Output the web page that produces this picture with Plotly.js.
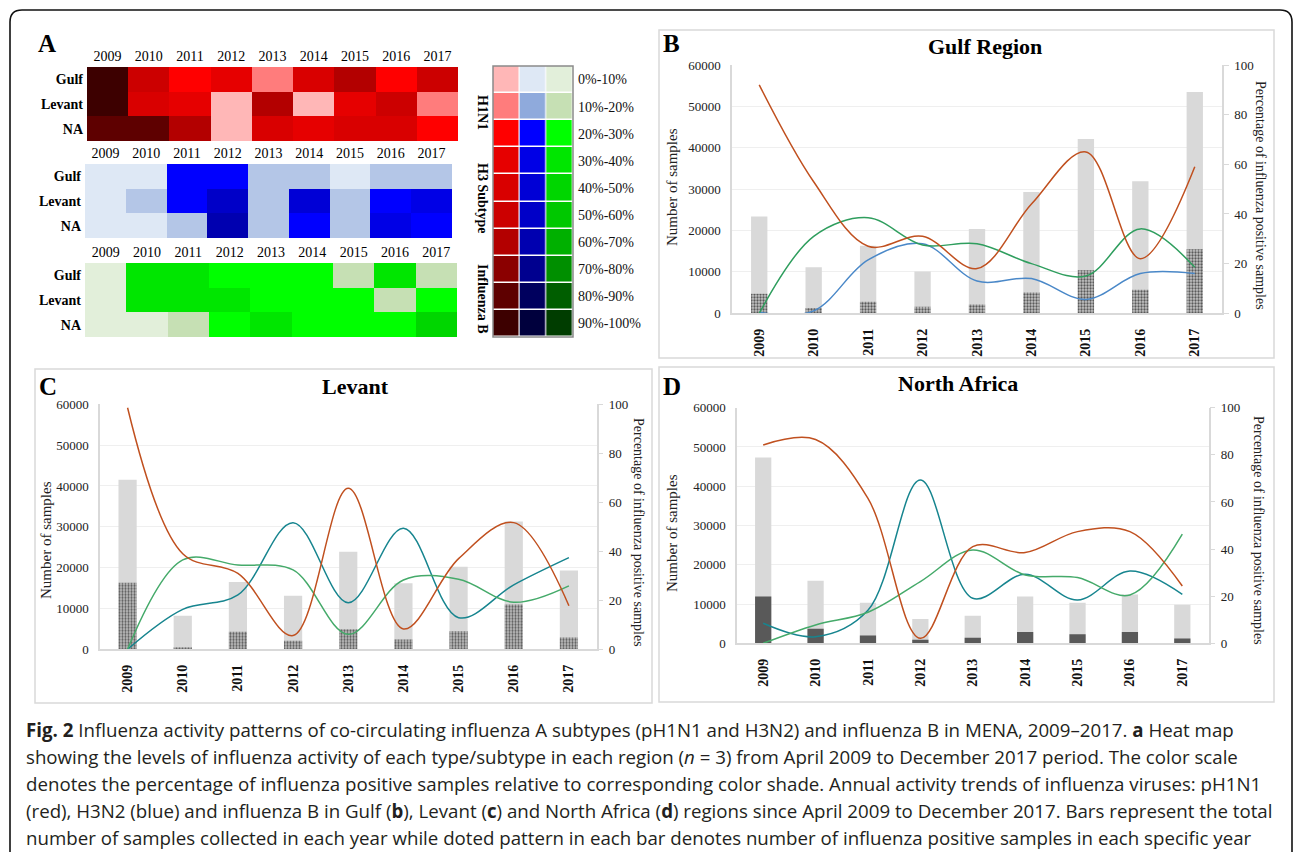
<!DOCTYPE html>
<html><head><meta charset="utf-8">
<script src="https://cdn.plot.ly/plotly-3.0.1.min.js"></script>
<style>html,body{margin:0;padding:0;background:#fff}#chart{width:1295px;height:852px}</style>
</head><body><div id="chart"></div>
<script>
// ---------------- DATA ----------------
const years = ['2009','2010','2011','2012','2013','2014','2015','2016','2017'];
const regions = ['Gulf','Levant','NA'];
const classLabels = ['0%-10%','10%-20%','20%-30%','30%-40%','40%-50%','50%-60%','60%-70%','70%-80%','80%-90%','90%-100%'];
const classValues = [5,15,25,35,45,55,65,75,85,95];

// Heat map A: percentage class (midpoint) per region/year
const h1n1Gulf   = [95,55,25,35,15,45,65,25,55];
const h1n1Levant = [95,45,35,5,65,5,35,55,15];
const h1n1NA     = [85,85,65,5,45,35,45,45,25];
const h3Gulf     = [5,5,25,25,15,15,5,15,15];
const h3Levant   = [5,15,25,55,15,45,15,25,35];
const h3NA       = [5,5,15,65,15,25,15,35,25];
const fluBGulf   = [5,35,35,25,25,25,15,35,15];
const fluBLevant = [5,35,35,35,25,25,25,15,25];
const fluBNA     = [5,5,15,25,35,25,25,25,45];

// Panel B: Gulf Region
const gulfTotal    = [23400,11100,16300,10100,20400,29300,42100,31900,53500];
const gulfPositive = [4700,1300,2800,1600,2100,5000,10400,5700,15500];
const gulfH1N1     = [92,53,27,31,18,44,65,22,59];
const gulfH3N2     = [0.4,1,21.5,28,13,14,5.6,16,16];
const gulfFluB     = [0,31,38.5,27.5,28,20,15,34,18.5];

// Panel C: Levant
const levantTotal    = [41500,8200,16500,13100,23900,16200,20200,31300,19300];
const levantPositive = [16300,400,4300,2100,4900,2400,4400,11000,2900];
const levantH1N1     = [98.6,39,31,5.6,65.7,8.3,37,51.7,17.8];
const levantH3N2     = [0,16.3,22.2,51.7,19,49.4,12.9,26.3,37.4];
const levantFluB     = [0,36.5,34.4,32.4,6.1,28.3,28.6,19.2,25.9];

// Panel D: North Africa
const naTotal    = [47300,15900,10300,6200,7000,11900,10300,12400,9800];
const naPositive = [11900,3700,2000,900,1400,2900,2300,2900,1200];
const naH1N1     = [84.2,86.5,61.5,2.1,41,38.5,47.4,47.4,24.3];
const naH3N2     = [8.5,2.8,14,69.3,19.1,29.3,18.4,30.7,20.8];
const naFluB     = [0,7.8,13.2,26.2,39.6,29,27.9,20.5,46.3];

// ---------------- STYLE ----------------
const W = 1295, H = 852;
const X = (a,b) => [a/W, b/W];
const Y = (t,b) => [1-b/H, 1-t/H];
const px = x => x/W, py = y => 1 - y/H;
const SERIF = 'Liberation Serif, Times New Roman, serif';
const SANS = 'Open Sans, Noto Sans, sans-serif';

const redHeat   = ['#ffb7b7','#ff7c7c','#ff0000','#e60000','#d90000','#cc0000','#b30000','#8b0000','#5e0000','#3d0000'];
const blueHeat  = ['#dee8f5','#b4c6e7','#0000ff','#0000e6','#0000d6','#0000c8','#0000b0','#00008f','#00005e','#00003d'];
const blueLeg   = ['#dee8f5','#8faadc','#0000ff','#0000e6','#0000d6','#0000c8','#0000b0','#00008f','#00005e','#00003d'];
const greenHeat = ['#e2efda','#c6e0b4','#00ff00','#00e600','#00d600','#00c800','#00b000','#008f00','#005e00','#003d00'];

function steps(cols){ const s=[]; cols.forEach((c,i)=>{ s.push([i/10,c]); s.push([(i+1)/10,c]); }); return s; }

const RED='#c0501f', GREENB='#2f9e5e', BLUEB='#4a88c8', TEAL='#17858f', GREEN2='#45aa6a';

const traces = [];
function heat(z, cols, xa, ya){
  traces.push({type:'heatmap', x:years, y:regions, z:z, xaxis:xa, yaxis:ya, colorscale:steps(cols), zmin:0, zmax:100, showscale:false, hoverinfo:'skip'});
}
heat([h1n1Gulf,h1n1Levant,h1n1NA], redHeat, 'x', 'y');
heat([h3Gulf,h3Levant,h3NA], blueHeat, 'x2', 'y2');
heat([fluBGulf,fluBLevant,fluBNA], greenHeat, 'x3', 'y3');

// colour scale legend: one column per virus (column edges given explicitly)
[redHeat, blueLeg, greenHeat].forEach((cols,i)=>{
  traces.push({type:'heatmap', x:[i-0.5, i+0.5], y:classLabels, z:classValues.map(v=>[v]), xaxis:'x4', yaxis:'y4',
    colorscale:steps(cols), zmin:0, zmax:100, showscale:false, xgap:1.5, ygap:1.5, hoverinfo:'skip'});
});

function panel(xa, yl, yr, total, pos, lines, width, solid){
  traces.push({type:'bar', x:years, y:total, xaxis:xa, yaxis:yl, width:width, marker:{color:'#d9d9d9'}, hoverinfo:'skip'});
  traces.push({type:'bar', x:years, y:pos, xaxis:xa, yaxis:yl, width:width,
    marker: solid ? {color:'#595959'} : {color:'#8c8c8c', pattern:{shape:'.', fgcolor:'#5a5a5a', bgcolor:'#c4c4c4', size:3, solidity:0.45}}, hoverinfo:'skip'});
  lines.forEach(([vals,col])=>{
    traces.push({type:'scatter', mode:'lines', x:years, y:vals, xaxis:xa, yaxis:yr, line:{color:col, width:1.5, shape:'spline', smoothing:1}, hoverinfo:'skip'});
  });
}
panel('x5','y5','y6', gulfTotal, gulfPositive, [[gulfH3N2,BLUEB],[gulfFluB,GREENB],[gulfH1N1,RED]], 0.3, false);
panel('x6','y7','y8', levantTotal, levantPositive, [[levantH3N2,TEAL],[levantFluB,GREEN2],[levantH1N1,RED]], 0.33, false);
panel('x7','y9','y10', naTotal, naPositive, [[naH3N2,TEAL],[naFluB,GREEN2],[naH1N1,RED]], 0.31, true);

// ---------------- LAYOUT ----------------
function heatX(dom, anchor){ return {domain:X(...dom), anchor:anchor, side:'top', type:'category', showgrid:false, zeroline:false, showline:false, ticks:'', ticklabelstandoff:2, tickfont:{family:SERIF, size:14, color:'#000'}, fixedrange:true}; }
function heatY(dom, anchor){ return {domain:Y(...dom), anchor:anchor, type:'category', autorange:'reversed', showgrid:false, zeroline:false, showline:false, ticks:'', ticklabelstandoff:3, tickfont:{family:SERIF, size:14, color:'#000', weight:'bold'}, fixedrange:true}; }

function barX(dom, anchor){ return {domain:X(...dom), anchor:anchor, type:'category', tickangle:-90, showgrid:false, zeroline:false, showline:true, linecolor:'#d9d9d9', linewidth:1.5, ticks:'', ticklabelstandoff:8, tickfont:{family:SERIF, size:14, color:'#111', weight:'bold'}, fixedrange:true}; }
function barYL(dom, anchor){ return {domain:Y(...dom), anchor:anchor, range:[0,60000], dtick:10000, tickformat:'d', showgrid:true, gridcolor:'#efefef', gridwidth:1.2, zeroline:false, showline:true, linecolor:'#d9d9d9', linewidth:1.5, ticks:'', ticklabelstandoff:7, tickfont:{family:SERIF, size:13, color:'#222'}, fixedrange:true}; }
function barYR(over, anchor){ return {overlaying:over, anchor:anchor, side:'right', range:[0,100], dtick:20, showgrid:false, zeroline:false, showline:true, linecolor:'#d9d9d9', linewidth:1.5, ticks:'outside', ticklen:5, tickcolor:'#d9d9d9', ticklabelstandoff:3, tickfont:{family:SERIF, size:13, color:'#222'}, fixedrange:true}; }

function ann(text, x, y, font, extra){ return Object.assign({text:text, x:px(x), y:py(y), xref:'paper', yref:'paper', showarrow:false, xanchor:'center', yanchor:'middle', font:font}, extra||{}); }
const letterF = {family:SERIF, size:25, color:'#000', weight:'bold'};
const titleF = {family:SERIF, size:22, color:'#000', weight:'bold'};
const axT = {family:SERIF, size:15, color:'#222'};
const axT2 = {family:SERIF, size:14, color:'#222'};
const vlab = {family:SERIF, size:14, color:'#000', weight:'bold'};
const capF = {family:SANS, size:18.7, color:'#231f20'};

const annotations = [
  ann('A', 47, 43, letterF),
  ann('B', 671, 43, letterF),
  ann('C', 48, 387, letterF),
  ann('D', 672, 387, letterF),
  ann('Gulf Region', 985, 47, titleF),
  ann('Levant', 355, 387, titleF),
  ann('North Africa', 958, 383, titleF),
  ann('H1N1', 483, 112, vlab, {textangle:90}),
  ann('H3 Subtype', 483, 198, vlab, {textangle:90}),
  ann('Influenza B', 483, 299, vlab, {textangle:90}),
  ann('Number of samples', 672, 187, axT, {textangle:-90}),
  ann('Number of samples', 46, 540, axT, {textangle:-90}),
  ann('Number of samples', 672, 533, axT, {textangle:-90}),
  ann('Percentage of influenza positive samples', 1261, 195, axT2, {textangle:90}),
  ann('Percentage of influenza positive samples', 639, 532, axT2, {textangle:90}),
  ann('Percentage of influenza positive samples', 1259, 530, axT2, {textangle:90}),
];
const caption = [
  '<b>Fig. 2</b> Influenza activity patterns of co-circulating influenza A subtypes (pH1N1 and H3N2) and influenza B in MENA, 2009–2017. <b>a</b> Heat map',
  'showing the levels of influenza activity of each type/subtype in each region (<i>n</i> = 3) from April 2009 to December 2017 period. The color scale',
  'denotes the percentage of influenza positive samples relative to corresponding color shade. Annual activity trends of influenza viruses: pH1N1',
  '(red), H3N2 (blue) and influenza B in Gulf (<b>b</b>), Levant (<b>c</b>) and North Africa (<b>d</b>) regions since April 2009 to December 2017. Bars represent the total',
  'number of samples collected in each year while doted pattern in each bar denotes number of influenza positive samples in each specific year'
];
const capY = [729, 756, 783, 810, 837];
caption.forEach((t,i)=>annotations.push(ann(t, 24, capY[i], capF, {xanchor:'left'})));

function rect(x0,y0,x1,y1,col,w){ return {type:'rect', xref:'paper', yref:'paper', x0:px(x0), x1:px(x1), y0:py(y1), y1:py(y0), line:{color:col, width:w}, fillcolor:'rgba(0,0,0,0)', layer:'above'}; }
const outerPath = 'M '+px(10)+','+py(900)+' L '+px(10)+','+py(22)+' Q '+px(10)+','+py(10)+' '+px(22)+','+py(10)+
  ' L '+px(1280)+','+py(10)+' Q '+px(1292)+','+py(10)+' '+px(1292)+','+py(22)+' L '+px(1292)+','+py(900);
const shapes = [
  {type:'path', xref:'paper', yref:'paper', path:outerPath, line:{color:'#111', width:1.6}},
  rect(659,30,1274,358,'#d9d9d9',1.5),
  rect(35,369,652,703,'#d9d9d9',1.5),
  rect(659,367,1274,702,'#d9d9d9',1.5),
  rect(493,66,573,337,'#8a8a8a',1.5),
];

const layout = {
  width:W, height:H, margin:{l:0,r:0,t:0,b:0}, paper_bgcolor:'#fff', plot_bgcolor:'rgba(0,0,0,0)',
  showlegend:false, barmode:'overlay', font:{family:SERIF},
  xaxis: heatX([87,458],'y'),  yaxis: heatY([67,141],'x'),
  xaxis2: heatX([85,452],'y2'), yaxis2: heatY([164,238],'x2'),
  xaxis3: heatX([85,457],'y3'), yaxis3: heatY([263,337],'x3'),
  xaxis4: {domain:X(493,573), anchor:'y4', range:[-0.5,2.5], showticklabels:false, showgrid:false, zeroline:false, ticks:'', fixedrange:true},
  yaxis4: {domain:Y(66,337), anchor:'x4', side:'right', type:'category', autorange:'reversed', showgrid:false, zeroline:false, ticks:'', ticklabelstandoff:4, tickfont:{family:SERIF, size:14, color:'#111'}, fixedrange:true},
  xaxis5: barX([732,1222],'y5'), yaxis5: barYL([65,313.3],'x5'), yaxis6: barYR('y5','x5'),
  xaxis6: barX([100,596.5],'y7'), yaxis7: barYL([404.3,649.3],'x6'), yaxis8: barYR('y7','x6'),
  xaxis7: barX([737,1208.5],'y9'), yaxis9: barYL([407.7,643.3],'x7'), yaxis10: barYR('y9','x7'),
  annotations: annotations, shapes: shapes
};
Plotly.newPlot('chart', traces, layout, {displayModeBar:false, responsive:false});
</script></body></html>
